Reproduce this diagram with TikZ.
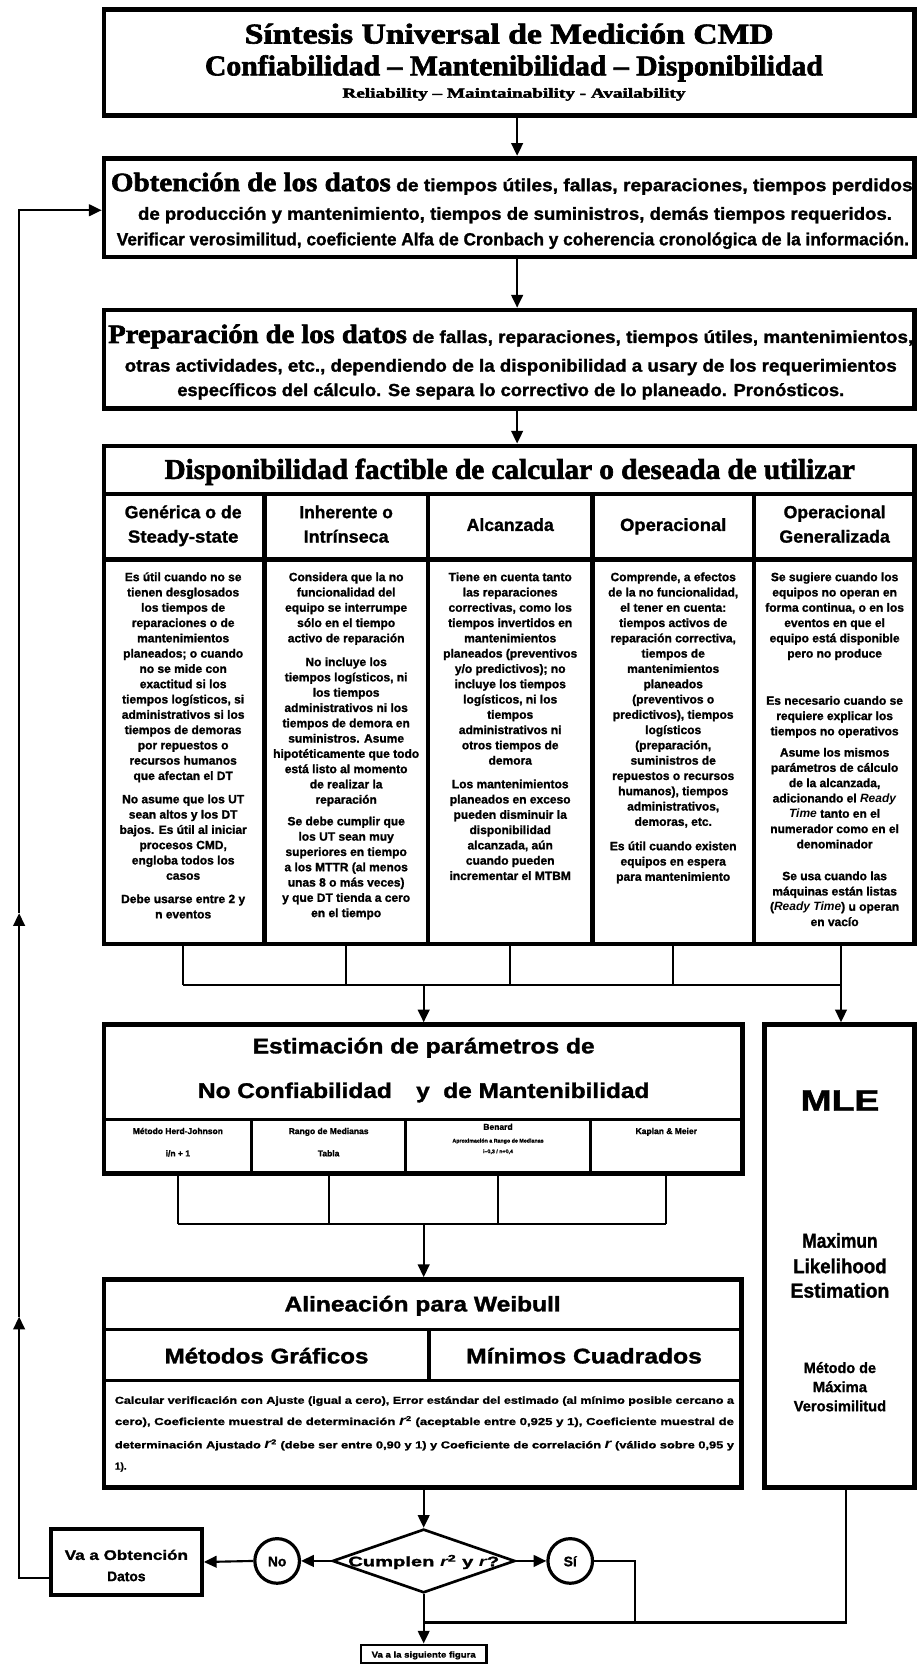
\documentclass[tikz,border=0pt]{standalone}
\usepackage{fontspec}
\usepackage{graphicx}
\setmainfont{Liberation Sans}[BoldFeatures={FakeBold=1.4}]
\newfontfamily\serfam{Liberation Serif}[BoldFeatures={FakeBold=2.2}]
\usetikzlibrary{arrows.meta,shapes.geometric,calc}

% squeeze or stretch a line horizontally to a given width, keeping its height
\newcommand\fitto[2]{\resizebox{#1}{\height}{#2}}
\newcommand\fsz[1]{\fontsize{#1}{#1}\selectfont}
\newcommand\bodyfont{\fontsize{11.3}{14.4}\selectfont\bfseries}
\newcommand\colbody[1]{{\bodyfont\begin{tabular}{@{}c@{}}#1\end{tabular}}}
\newcommand\rr{{\fsz{13}\itshape r}}

\begin{document}
\begin{tikzpicture}[x=1pt,y=-1pt,
  frame/.style={draw,line width=4.5pt,inner sep=0pt},
  rule/.style={line width=4pt},
  thinrule/.style={line width=3pt},
  link/.style={line width=2pt},
  arr/.style={link,-{Triangle[length=12pt,width=11pt]}},
  lbl/.style={inner sep=0pt,anchor=base},
  lblw/.style={inner sep=0pt,anchor=base west},
  col/.style={inner sep=0pt,anchor=north},
]
\fill[white] (0,0) rectangle (864,1568);
\useasboundingbox (0,0) rectangle (864,1568);

% ---------- helper coordinates ----------
\coordinate (ax) at (487,0);
\coordinate (ax2) at (399,0);
\coordinate (cx1) at (172.5,0);
\coordinate (cx2) at (326,0);
\coordinate (cx3) at (480.5,0);
\coordinate (cx4) at (634,0);
\coordinate (cx5) at (792,0);
\coordinate (j1) at (0,928);
\coordinate (ex1) at (167.5,0);
\coordinate (ex2) at (309.5,0);
\coordinate (ex3) at (469,0);
\coordinate (ex4) at (627.5,0);
\coordinate (j2) at (0,1153);
\coordinate (j3) at (0,1528);
\coordinate (sx) at (598,0);
\coordinate (mx) at (797,0);
\coordinate (lpA) at (18,1486);
\coordinate (lpB) at (18,1240);
\coordinate (lpC) at (18,860);
\coordinate (lpD) at (18,198);

% ---------- title ----------
\node[frame,minimum width=763pt,minimum height=100pt] (b1) at (479.5,59) {};
\node[lbl] (t1) at (479.5,41) {\fitto{498pt}{\serfam\bfseries\fsz{27}Síntesis Universal de Medición CMD}};
\node[lbl] (t2) at (484,71) {\fitto{582pt}{\serfam\bfseries\fsz{27}Confiabilidad – Mantenibilidad – Disponibilidad}};
\node[lbl] (t3) at (484,92) {\fitto{323pt}{\serfam\bfseries\fsz{13}Reliability – Maintainability - Availability}};

% ---------- data gathering ----------
\node[frame,minimum width=763pt,minimum height=93pt] (b2) at (479.5,195.5) {};
\node[lbl] (o1) at (482,180) {\fitto{755pt}{{\serfam\bfseries\fsz{25}Obtención de los datos}{\bfseries\fsz{16.5} de tiempos útiles, fallas, reparaciones, tiempos perdidos}}};
\node[lbl] (o2) at (485,207) {\fitto{710pt}{\bfseries\fsz{16.5}de producción y mantenimiento, tiempos de suministros, demás tiempos requeridos.}};
\node[lbl] (o3) at (483,231) {\fitto{746pt}{\bfseries\fsz{16.5}Verificar verosimilitud, coeficiente Alfa de Cronbach y coherencia cronológica de la información.}};

% ---------- data preparation ----------
\node[frame,minimum width=763pt,minimum height=93pt] (b3) at (479.5,338.5) {};
\node[lbl] (p1) at (481,323) {\fitto{758pt}{{\serfam\bfseries\fsz{25}Preparación de los datos}{\bfseries\fsz{16.5} de fallas, reparaciones, tiempos útiles, mantenimientos,}}};
\node[lbl] (p2) at (481,350) {\fitto{727pt}{\bfseries\fsz{16.5}otras actividades, etc., dependiendo de la disponibilidad a usary de los requerimientos}};
\node[lbl] (p3) at (481,373) {\fitto{628pt}{\bfseries\fsz{16.5}específicos del cálculo. Se separa lo correctivo de lo planeado. Pronósticos.}};

% ---------- availability table ----------
\node[frame,minimum width=763pt,minimum height=469pt] (b4) at (479.5,654.5) {};
\draw[rule] (98,465) -- (861,465);
\draw[rule] (98,527) -- (861,527);
\foreach \xx in {249,403,558,710} \draw[rule] (\xx,465) -- (\xx,889);
\node[lbl] (d0) at (480,451) {\fitto{650pt}{\serfam\bfseries\fsz{27}Disponibilidad factible de calcular o deseada de utilizar}};

\node[lbl] (h1a) at (172.5,488) {\fitto{110pt}{\bfseries\fsz{16.5}Genérica o de}};
\node[lbl] (h1b) at (172.5,511) {\fitto{104pt}{\bfseries\fsz{16.5}Steady-state}};
\node[lbl] (h2a) at (326,488) {\fitto{88pt}{\bfseries\fsz{16.5}Inherente o}};
\node[lbl] (h2b) at (326,511) {\fitto{80pt}{\bfseries\fsz{16.5}Intrínseca}};
\node[lbl] (h3) at (480.5,500) {\fitto{82pt}{\bfseries\fsz{16.5}Alcanzada}};
\node[lbl] (h4) at (634,500) {\fitto{100pt}{\bfseries\fsz{16.5}Operacional}};
\node[lbl] (h5a) at (786,488) {\fitto{96pt}{\bfseries\fsz{16.5}Operacional}};
\node[lbl] (h5b) at (786,511) {\fitto{104pt}{\bfseries\fsz{16.5}Generalizada}};

\node[col] (k1) at (172.5,537) {\colbody{%
Es útil cuando no se\\ tienen desglosados\\ los tiempos de\\ reparaciones o de\\ mantenimientos\\
planeados; o cuando\\ no se mide con\\ exactitud si los\\ tiempos logísticos, si\\ administrativos si los\\
tiempos de demoras\\ por repuestos o\\ recursos humanos\\ que afectan el DT\\[7.6pt]
No asume que los UT\\ sean altos y los DT\\ bajos. Es útil al iniciar\\ procesos CMD,\\ engloba todos los\\ casos\\[7.6pt]
Debe usarse entre 2 y\\ n eventos}};

\node[col] (k2) at (326,537) {\colbody{%
Considera que la no\\ funcionalidad del\\ equipo se interrumpe\\ sólo en el tiempo\\ activo de reparación\\[8pt]
No incluye los\\ tiempos logísticos, ni\\ los tiempos\\ administrativos ni los\\ tiempos de demora en\\
suministros. Asume\\ hipotéticamente que todo\\ está listo al momento\\ de realizar la\\ reparación\\[6pt]
Se debe cumplir que\\ los UT sean muy\\ superiores en tiempo\\ a los MTTR (al menos\\ unas 8 o más veces)\\
y que DT tienda a cero\\ en el tiempo}};

\node[col] (k3) at (480.5,537) {\colbody{%
Tiene en cuenta tanto\\ las reparaciones\\ correctivas, como los\\ tiempos invertidos en\\ mantenimientos\\
planeados (preventivos\\ y/o predictivos); no\\ incluye los tiempos\\ logísticos, ni los\\ tiempos\\
administrativos ni\\ otros tiempos de\\ demora\\[7.8pt]
Los mantenimientos\\ planeados en exceso\\ pueden disminuir la\\ disponibilidad\\ alcanzada, aún\\
cuando pueden\\ incrementar el MTBM}};

\node[col] (k4) at (634,537) {\colbody{%
Comprende, a efectos\\ de la no funcionalidad,\\ el tener en cuenta:\\ tiempos activos de\\ reparación correctiva,\\
tiempos de\\ mantenimientos\\ planeados\\ (preventivos o\\ predictivos), tiempos\\ logísticos\\
(preparación,\\ suministros de\\ repuestos o recursos\\ humanos), tiempos\\ administrativos,\\ demoras, etc.\\[8.6pt]
Es útil cuando existen\\ equipos en espera\\ para mantenimiento}};

\node[col] (k5) at (786,537) {\colbody{%
Se sugiere cuando los\\ equipos no operan en\\ forma continua, o en los\\ eventos en que el\\ equipo está disponible\\
pero no produce\\[30pt]
Es necesario cuando se\\ requiere explicar los\\ tiempos no operativos\\[5.6pt]
Asume los mismos\\ parámetros de cálculo\\ de la alcanzada,\\ adicionando el \textit{Ready}\\ \textit{Time} tanto en el\\
numerador como en el\\ denominador\\[15.6pt]
Se usa cuando las\\ máquinas están listas\\ (\textit{Ready Time}) u operan\\ en vacío}};

% ---------- parameter estimation ----------
\node[frame,minimum width=601pt,minimum height=140pt] (est) at (398.5,1035) {};
\draw[thinrule] (98,1054) -- (699,1054);
\foreach \xx in {237,382,556} \draw[thinrule] (\xx,1054) -- (\xx,1105);
\node[lbl] (e1) at (399,992) {\fitto{322pt}{\bfseries\fsz{20}Estimación de parámetros de}};
\node[lbl] (e2) at (399,1034) {\fitto{425pt}{\bfseries\fsz{20}No Confiabilidad\quad y\ \ de Mantenibilidad}};
\node[lbl] (m1a) at (167.5,1068) {\bfseries\fsz{8}Método Herd-Johnson};
\node[lbl] (m1b) at (167.5,1089) {\bfseries\fsz{8}i/n + 1};
\node[lbl] (m2a) at (309.5,1068) {\bfseries\fsz{8}Rango de Medianas};
\node[lbl] (m2b) at (309.5,1089) {\bfseries\fsz{8}Tabla};
\node[lbl] (m3a) at (469,1064) {\bfseries\fsz{8}Benard};
\node[lbl] (m3b) at (469,1076) {\bfseries\fsz{5}Aproximación a Rango de Medianas};
\node[lbl] (m3c) at (469,1086) {\bfseries\fsz{5}i–0,3 / n+0,4};
\node[lbl] (m4a) at (627.5,1068) {\bfseries\fsz{8}Kaplan \& Meier};

% ---------- MLE ----------
\node[frame,minimum width=141pt,minimum height=436pt] (mle) at (790.5,1183) {};
\node[lbl] (l1) at (791,1046) {\fitto{74pt}{\bfseries\fsz{28}MLE}};
\node[lbl] (l2) at (791,1175) {\fitto{71pt}{\bfseries\fsz{19}Maximun}};
\node[lbl] (l3) at (791,1199) {\fitto{88pt}{\bfseries\fsz{19}Likelihood}};
\node[lbl] (l4) at (791,1222) {\fitto{93pt}{\bfseries\fsz{19}Estimation}};
\node[lbl] (l5) at (791,1293) {\fitto{68pt}{\bfseries\fsz{14}Método de}};
\node[lbl] (l6) at (791,1311) {\fitto{51pt}{\bfseries\fsz{14}Máxima}};
\node[lbl] (l7) at (791,1329) {\fitto{87pt}{\bfseries\fsz{14}Verosimilitud}};

% ---------- Weibull alignment ----------
\node[frame,minimum width=600pt,minimum height=196pt] (al) at (398,1303) {};
\draw[thinrule] (98,1252) -- (698,1252);
\draw[thinrule] (98,1300) -- (698,1300);
\draw[thinrule] (404,1252) -- (404,1300);
\node[lbl] (w1) at (398,1235) {\fitto{260pt}{\bfseries\fsz{20}Alineación para Weibull}};
\node[lbl] (w2) at (251,1284) {\fitto{192pt}{\bfseries\fsz{20}Métodos Gráficos}};
\node[lbl] (w3) at (550,1284) {\fitto{222pt}{\bfseries\fsz{20}Mínimos Cuadrados}};
\node[lblw] (q1) at (108,1322) {\fitto{583pt}{\bfseries\fsz{9.5}Calcular verificación con Ajuste (igual a cero), Error estándar del estimado (al mínimo posible cercano a}};
\node[lblw] (q2) at (108,1342) {\fitto{583pt}{\bfseries\fsz{9.5}cero), Coeficiente muestral de determinación \rr\textsuperscript{2} (aceptable entre 0,925 y 1), Coeficiente muestral de}};
\node[lblw] (q3) at (108,1364) {\fitto{583pt}{\bfseries\fsz{9.5}determinación Ajustado \rr\textsuperscript{2} (debe ser entre 0,90 y 1) y Coeficiente de correlación \rr\ (válido sobre 0,95 y}};
\node[lblw] (q4) at (108,1384) {\bfseries\fsz{9.5}1).};

% ---------- decision ----------
\node[draw,diamond,line width=2.5pt,inner sep=0pt,minimum width=172pt,minimum height=60pt] (dia) at (399,1470) {};
\node[lbl] (dt) at (399,1475) {\fitto{142pt}{\bfseries\fsz{13}Cumplen \rr\textsuperscript{2} y \rr ?}};
\node[draw,circle,line width=3pt,inner sep=0pt,minimum size=42pt] (no) at (261,1470) {};
\node[lbl] (not) at (261,1475) {\bfseries\fsz{13}No};
\node[draw,circle,line width=3pt,inner sep=0pt,minimum size=42pt] (si) at (537,1470) {};
\node[lbl] (sit) at (537,1475) {\bfseries\fsz{13}Sí};
\node[draw,line width=4pt,inner sep=0pt,minimum width=142pt,minimum height=62pt] (vao) at (119,1471) {};
\node[lbl] (v1) at (119,1469) {\fitto{116pt}{\bfseries\fsz{13}Va a Obtención}};
\node[lbl] (v2) at (119,1489) {\bfseries\fsz{13}Datos};
\node[draw,line width=2.5pt,inner sep=0pt,minimum width=118pt,minimum height=17pt] (sig) at (399,1557.5) {};
\node[lbl] (sgt) at (399,1561) {\fitto{98pt}{\bfseries\fsz{8}Va a la siguiente figura}};

% ---------- connectors ----------
\draw[arr] (b1.south -| ax) -- (b2.north -| ax);
\draw[arr] (b2.south -| ax) -- (b3.north -| ax);
\draw[arr] (b3.south -| ax) -- (b4.north -| ax);

\foreach \c in {cx1,cx2,cx3,cx4,cx5} \draw[link] (b4.south -| \c) -- (\c |- j1);
\draw[link] (cx1 |- j1) -- (cx5 |- j1);
\draw[arr] (ax2 |- j1) -- (est.north -| ax2);
\draw[arr] (cx5 |- j1) -- (mle.north -| cx5);

\foreach \c in {ex1,ex2,ex3,ex4} \draw[link] (est.south -| \c) -- (\c |- j2);
\draw[link] (ex1 |- j2) -- (ex4 |- j2);
\draw[arr] (ax2 |- j2) -- (al.north -| ax2);

\draw[arr] (al.south -| ax2) -- (dia.north);
\draw[arr] (dia.west) -- (no.east);
\draw[arr] (no.west) -- (vao.east);
\draw[arr] (dia.east) -- (si.west);
\draw[link] (si.east) -- (sx |- si.east) -- (sx |- j3);
\draw[link] (mle.south -| mx) -- (mx |- j3) -- (ax2 |- j3);
\draw[link] (dia.south) -- (ax2 |- j3);
\draw[arr] (ax2 |- j3) -- (sig.north);

\draw[arr] (vao.west |- lpA) -- (lpA) -- (lpB);
\draw[arr] (lpB) -- (lpC);
\draw[arr] (lpC) -- (lpD) -- (b2.west |- lpD);
\end{tikzpicture}
\end{document}
